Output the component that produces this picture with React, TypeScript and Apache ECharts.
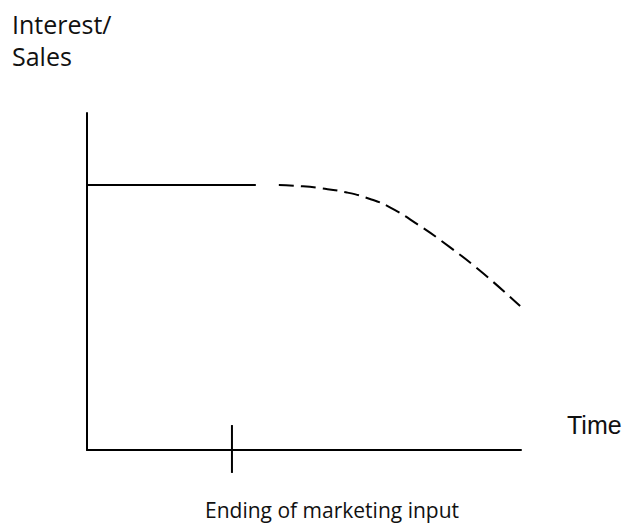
import React, { useEffect, useRef } from "react";
import * as echarts from "echarts";

// Solid "interest/sales" level while marketing input is on (x in % of time axis, y in % of height)
const solidX = [0, 38.9];
const solidY = [78.6, 78.6];
// Dashed decline after marketing input ends
const dashX = [44.2, 49.1, 53.7, 59.9, 65.2, 69.8, 76.0, 83.6, 91.2, 99.8];
const dashY = [78.6, 78.3, 77.7, 76.4, 74.5, 72.0, 67.1, 60.2, 52.5, 42.7];
// Marker on the time axis: end of marketing input
const endX = 33.4;
const endTickY = [7.4, -6.8];

const yLabelLines = ["Interest/", "Sales"];
const xLabel = "Time";
const endLabel = "Ending of marketing input";

const GRID = { left: 87, top: 113, right: 105, bottom: 74 };

export default function App() {
  const ref = useRef<HTMLDivElement>(null);
  useEffect(() => {
    if (!ref.current) return;
    document.body.style.margin = "0";
    const chart = echarts.init(ref.current, undefined, { renderer: "svg" });
    const font = "Open Sans";
    chart.setOption({
      animation: false,
      backgroundColor: "#ffffff",
      grid: GRID,
      xAxis: {
        type: "value",
        min: 0,
        max: 100,
        axisLine: { show: true, lineStyle: { color: "#000", width: 2 } },
        axisTick: { show: false },
        axisLabel: { show: false },
        splitLine: { show: false },
      },
      yAxis: {
        type: "value",
        min: 0,
        max: 100,
        axisLine: { show: true, lineStyle: { color: "#000", width: 2 } },
        axisTick: { show: false },
        axisLabel: { show: false },
        splitLine: { show: false },
      },
      series: [
        {
          type: "line",
          data: solidX.map((x, i) => [x, solidY[i]]),
          symbol: "none",
          lineStyle: { color: "#000", width: 2 },
        },
        {
          type: "line",
          data: dashX.map((x, i) => [x, dashY[i]]),
          symbol: "none",
          smooth: 0.5,
          lineStyle: { color: "#000", width: 2, type: [15, 7] },
        },
        {
          type: "line",
          data: endTickY.map((y) => [endX, y]),
          symbol: "none",
          clip: false,
          lineStyle: { color: "#000", width: 2 },
        },
      ],
      graphic: [
        {
          type: "text",
          left: 12,
          top: 8,
          style: {
            text: yLabelLines.join("\n"),
            font: `25px "${font}"`,
            lineHeight: 32,
            fill: "#111",
          },
        },
        {
          type: "text",
          x: 567,
          y: 425,
          style: {
            text: xLabel,
            font: `25px "Liberation Sans"`,
            fill: "#111",
            verticalAlign: "middle",
          },
        },
        {
          type: "text",
          x: 205,
          y: 510,
          style: {
            text: endLabel,
            font: `21px "${font}"`,
            fill: "#111",
            align: "left",
            verticalAlign: "middle",
          },
        },
      ],
    });
    return () => chart.dispose();
  }, []);
  return <div ref={ref} style={{ width: 626, height: 524 }} />;
}
